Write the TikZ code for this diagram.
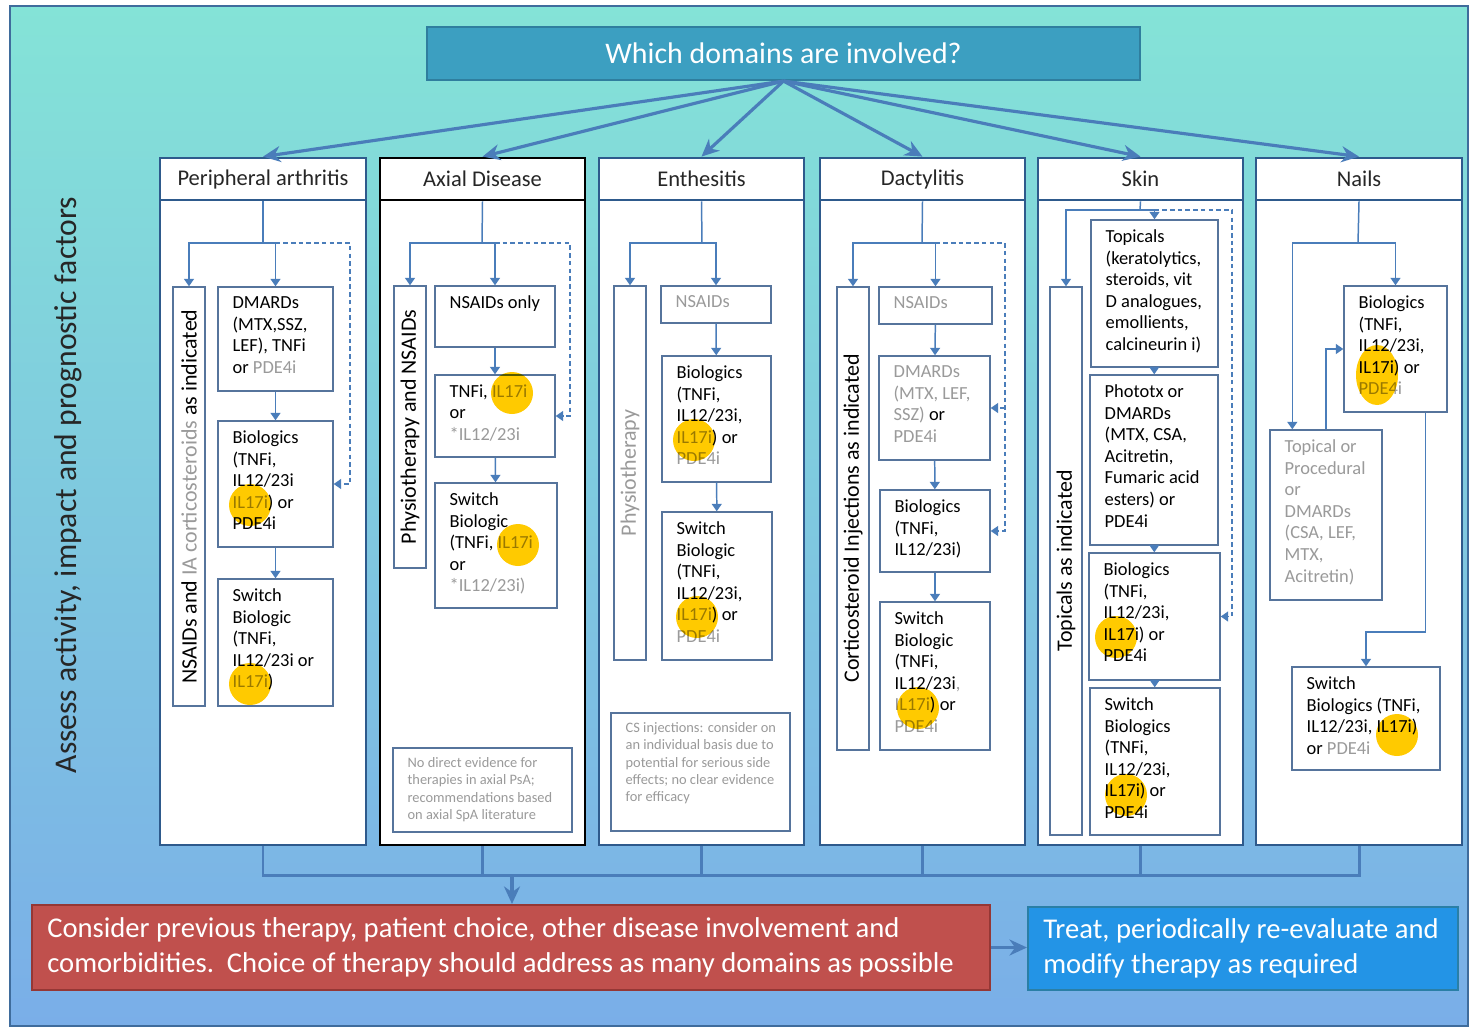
\documentclass[tikz,border=0pt]{standalone}
\usepackage{fontspec}
\setmainfont{Carlito}
\usetikzlibrary{arrows.meta,fit}
\definecolor{bgtop}{HTML}{84E3D7}
\definecolor{bgbot}{HTML}{7AAEE8}
\definecolor{frame}{HTML}{3F6C9C}
\definecolor{qfill}{HTML}{3C9FC1}
\definecolor{qline}{HTML}{2F7E9E}
\definecolor{colline}{HTML}{2E5A8C}
\definecolor{boxline}{HTML}{56749C}
\definecolor{arrowc}{HTML}{4A7DBA}
\definecolor{graytxt}{HTML}{9A9A9A}
\definecolor{hlyellow}{HTML}{FFCA00}
\definecolor{redbox}{HTML}{C0504D}
\definecolor{redline}{HTML}{953735}
\definecolor{bluebox}{HTML}{2394E6}
\definecolor{blueline}{HTML}{2A7FA6}
\begin{document}
\begin{tikzpicture}[x=0.02cm, y=-0.02cm,
  col/.style = {draw=colline, line width=1.6pt, fill=white, inner sep=0pt},
  colk/.style = {col, draw=black},
  head/.style = {anchor=center, inner sep=0pt, font=\fontsize{12.8}{15}\selectfont, text=black!85},
  box/.style = {draw=boxline, line width=0.8pt, fill=white, inner sep=0pt},
  txt/.style = {anchor=north west, align=left, inner xsep=0.3cm, inner ysep=0.2cm,
    font=\fontsize{10.5}{12.3}\selectfont},
  vtxt/.style = {rotate=90, anchor=center, inner sep=0pt, font=\fontsize{12.5}{14}\selectfont},
  note/.style = {txt, text=graytxt, font=\fontsize{8.2}{9.8}\selectfont},
  btxt/.style = {anchor=west, align=left, inner xsep=0.32cm, text=white,
    font=\fontsize{16.3}{20}\selectfont},
  ln/.style = {draw=arrowc, line width=0.85pt},
  ar/.style = {ln, -{Triangle[width=0.2cm, length=0.15cm]}},
  dar/.style = {ar, dash pattern=on 2.6pt off 1.8pt},
  bigar/.style = {draw=arrowc, line width=1.8pt, -{Stealth[length=0.35cm, width=0.32cm]}},
  bus/.style = {draw=arrowc, line width=1.7pt},
  hl/.style = {fill=hlyellow, blend mode=multiply}]

% page and background
\useasboundingbox (0,0) rectangle (1470,1028);
\fill[white] (0,0) rectangle (1470,1028);
\draw[frame, line width=1.2pt, top color=bgtop, bottom color=bgbot] (10,6) rectangle (1468,1026);

\node[fill=qfill, draw=qline, line width=1.2pt, inner sep=0pt, fit={(427,27) (1140,80)},
  label={[head, text=white, font=\fontsize{17}{19}\selectfont]center:{Which domains are involved?}}] (q) {};
\node[rotate=90, font=\fontsize{18}{20}\selectfont, text=black!85] (side) at (68,485)
  {Assess activity, impact and prognostic factors};

% columns
\node[col, fit={(160,200) (366,845)}] (pb) {};
\node[col, fit={(160,158) (366,200)}, label={[head]center:{Peripheral arthritis}}] (ph) {};
\node[colk, fit={(380,200) (585,845)}] (ab) {};
\node[colk, fit={(380,158) (585,200)}, label={[head]center:{Axial Disease}}] (ah) {};
\node[col, fit={(599,200) (804,845)}] (eb) {};
\node[col, fit={(599,158) (804,200)}, label={[head]center:{Enthesitis}}] (eh) {};
\node[col, fit={(820,200) (1025,845)}] (db) {};
\node[col, fit={(820,158) (1025,200)}, label={[head]center:{Dactylitis}}] (dh) {};
\node[col, fit={(1038,200) (1243,845)}] (sb) {};
\node[col, fit={(1038,158) (1243,200)}, label={[head]center:{Skin}}] (sh) {};
\node[col, fit={(1256,200) (1462,845)}] (nb) {};
\node[col, fit={(1256,158) (1462,200)}, label={[head]center:{Nails}}] (nh) {};

\foreach \c in {ph,ah,eh,dh,sh,nh}
  \draw[bigar] (q.south) -- (\c.north);

% peripheral arthritis
\node[box, fit={(173,287) (205,706)},
  label={[vtxt]center:{NSAIDs and {\color{graytxt}IA corticosteroids} as indicated}}] (pv) {};
\node[box, fit={(218,287) (333,391)},
  label={[txt]north west:{DMARDs\\(MTX,SSZ,\\LEF), TNFi\\or {\color{graytxt}PDE4i}}}] (pd) {};
\node[box, fit={(218,421) (333,547)},
  label={[txt]north west:{Biologics\\(TNFi,\\IL12/23i\\{\color{graytxt}IL17i}) or\\PDE4i}}] (pbi) {};
\node[box, fit={(218,579) (333,706)},
  label={[txt]north west:{Switch\\Biologic\\(TNFi,\\IL12/23i or\\{\color{graytxt}IL17i})}}] (psw) {};
\coordinate (pj) at (263,243);
\coordinate (pk) at (350,243);
\draw[ln] (ph.south) -- (pj);
\draw[ar] (pj) -| (pv.north);
\draw[ar] (pj) -| (pd.north);
\draw[dar] (pd.north |- pj) -- (pk) |- (pbi.east);
\draw[ar] (pd) -- (pbi);
\draw[ar] (pbi) -- (psw);

% axial disease
\node[box, fit={(394,286) (426,568)},
  label={[vtxt]center:{Physiotherapy and NSAIDs}}] (av) {};
\node[box, fit={(435,286) (555,347)},
  label={[txt]north west:{NSAIDs only}}] (ans) {};
\node[box, fit={(435,375) (555,457)},
  label={[txt]north west:{TNFi, {\color{graytxt}IL17i}\\or\\{\color{graytxt}*IL12/23i}}}] (atn) {};
\node[box, fit={(435,483) (557,608)},
  label={[txt]north west:{Switch\\Biologic\\(TNFi, {\color{graytxt}IL17i}\\or\\{\color{graytxt}*IL12/23i)}}}] (asw) {};
\node[box, fit={(393,748) (572,832)},
  label={[note]north west:{No direct evidence for\\therapies in axial PsA;\\recommendations based\\on axial SpA literature}}] (anote) {};
\coordinate (aj) at (482,243);
\coordinate (ak) at (570,243);
\draw[ln] (ah.south) -- (aj);
\draw[ar] (aj) -| (av.north);
\draw[ar] (aj) -| (ans.north);
\draw[dar] (ans.north |- aj) -- (ak) |- (atn.east);
\draw[ar] (ans) -- (atn);
\draw[ar] (atn) -- (asw);

% enthesitis
\node[box, fit={(614,286) (646,660)},
  label={[vtxt, text=graytxt]center:{Physiotherapy}}] (ev) {};
\node[box, fit={(661,286) (771,323)},
  label={[txt, text=graytxt]north west:{NSAIDs}}] (ens) {};
\node[box, fit={(662,356) (771,482)},
  label={[txt]north west:{Biologics\\(TNFi,\\IL12/23i,\\{\color{graytxt}IL17i}) or\\{\color{graytxt}PDE4i}}}] (ebi) {};
\node[box, fit={(662,512) (772,660)},
  label={[txt]north west:{Switch\\Biologic\\(TNFi,\\IL12/23i,\\{\color{graytxt}IL17i}) or\\{\color{graytxt}PDE4i}}}] (esw) {};
\node[box, fit={(611,713) (790,831)},
  label={[note]north west:{CS injections: consider on\\an individual basis due to\\potential for serious side\\effects; no clear evidence\\for efficacy}}] (enote) {};
\coordinate (ej) at (702,243);
\draw[ln] (eh.south) -- (ej);
\draw[ar] (ej) -| (ev.north);
\draw[ar] (ej) -| (ens.north);
\draw[ar] (ens) -- (ebi);
\draw[ar] (ebi) -- (esw);

% dactylitis
\node[box, fit={(837,287) (869,750)},
  label={[vtxt]center:{Corticosteroid Injections as indicated}}] (dv) {};
\node[box, fit={(879,287) (992,324)},
  label={[txt, text=graytxt]north west:{NSAIDs}}] (dns) {};
\node[box, fit={(879,356) (990,460)},
  label={[txt]north west:{{\color{graytxt}DMARDs}\\{\color{graytxt}(MTX, LEF,}\\{\color{graytxt}SSZ)} or\\{\color{graytxt}PDE4i}}}] (ddm) {};
\node[box, fit={(880,490) (990,572)},
  label={[txt]north west:{Biologics\\(TNFi,\\IL12/23i)}}] (dbi) {};
\node[box, fit={(880,602) (990,750)},
  label={[txt]north west:{Switch\\Biologic\\(TNFi,\\IL12/23i{\color{graytxt},}\\{\color{graytxt}IL17i}) or\\{\color{graytxt}PDE4i}}}] (dsw) {};
\coordinate (dj) at (922,243);
\coordinate (dk) at (1005,243);
\draw[ln] (dh.south) -- (dj);
\draw[ar] (dj) -| (dv.north);
\draw[ar] (dj) -| (dns.north);
\draw[dar] (dns.north |- dj) -- (dk) |- (dbi.east);
\draw[dar] (dk |- ddm.east) -- (ddm.east);
\draw[ar] (dns) -- (ddm);
\draw[ar] (ddm) -- (dbi);
\draw[ar] (dbi) -- (dsw);

% skin
\node[box, fit={(1050,287) (1082,835)},
  label={[vtxt]center:{Topicals as indicated}}] (sv) {};
\node[box, fit={(1091,220) (1218,367)},
  label={[txt]north west:{Topicals\\(keratolytics,\\steroids, vit\\D analogues,\\emollients,\\calcineurin i)}}] (stp) {};
\node[box, fit={(1090,375) (1218,545)},
  label={[txt]north west:{Phototx or\\DMARDs\\(MTX, CSA,\\Acitretin,\\Fumaric acid\\esters) or\\PDE4i}}] (sph) {};
\node[box, fit={(1089,553) (1220,680)},
  label={[txt]north west:{Biologics\\(TNFi,\\IL12/23i,\\IL17i) or\\PDE4i}}] (sbi) {};
\node[box, fit={(1090,688) (1220,835)},
  label={[txt]north west:{Switch\\Biologics\\(TNFi,\\IL12/23i,\\IL17i) or\\PDE4i}}] (ssw) {};
\coordinate (sj) at (1140,210);
\coordinate (sk) at (1232,210);
\draw[ln] (sh.south) -- (sj);
\draw[ar] (sj) -| (sv.north);
\draw[ar] (sj) -| (stp.north);
\draw[dar] (stp.north |- sj) -- (sk) |- (sbi.east);
\draw[ar] (stp) -- (sph);
\draw[ar] (sph) -- (sbi);
\draw[ar] (sbi) -- (ssw);

% nails
\node[box, fit={(1344,286) (1447,412)},
  label={[txt]north west:{Biologics\\(TNFi,\\IL12/23i,\\IL17i) or\\{\color{graytxt}PDE4i}}}] (nbi) {};
\node[box, fit={(1270,430) (1382,600)},
  label={[txt, text=graytxt]north west:{Topical or\\Procedural\\or\\DMARDs\\(CSA, LEF,\\MTX,\\Acitretin)}}] (ntp) {};
\node[box, fit={(1292,667) (1440,770)},
  label={[txt]north west:{Switch\\Biologics (TNFi,\\IL12/23i, IL17i)\\or {\color{graytxt}PDE4i}}}] (nsw) {};
\coordinate (nj) at (1358,243);
\coordinate (nm) at (1400,632);
\draw[ln] (nh.south) -- (nj);
\draw[ar] (nj) -| (nbi.north);
\draw[ar] (nj) -| ([xshift=0.46cm]ntp.north west);
\draw[ar] (ntp.north) |- (nbi.west);
\draw[ar] ([xshift=-0.44cm]nbi.south east) |- (nm) -| (nsw.north);

% highlights
\foreach \p in {(250,505), (250,684), (512,393), (518,545), (694,440), (697,617),
    (918,708), (1116,637), (1126,795), (1397,735)}
  \fill[hl] \p circle [radius=0.42cm];
\fill[hl] (1377,375) ellipse [x radius=0.42cm, y radius=0.6cm];

% bottom
\node[fill=redbox, draw=redline, line width=1.2pt, inner sep=0pt, fit={(32,905) (990,990)},
  label={[btxt]west:{Consider previous therapy, patient choice, other disease involvement and\\comorbidities.\ \ Choice of therapy should address as many domains as possible}}] (red) {};
\node[fill=bluebox, draw=blueline, line width=1.2pt, inner sep=0pt, fit={(1028,907) (1458,990)},
  label={[btxt]west:{Treat, periodically re-evaluate and\\modify therapy as required}}] (blue) {};
\coordinate (bus) at (512,875);
\draw[bus] (pb.south) -- (pb.south |- bus) -- (nb.south |- bus) -- (nb.south);
\foreach \c in {ab,eb,db,sb}
  \draw[bus] (\c.south) -- (\c.south |- bus);
\draw[bigar] (bus) -- (bus |- red.north);
\draw[bigar] (red.east) -- (red.east -| blue.west);
\end{tikzpicture}
\end{document}
